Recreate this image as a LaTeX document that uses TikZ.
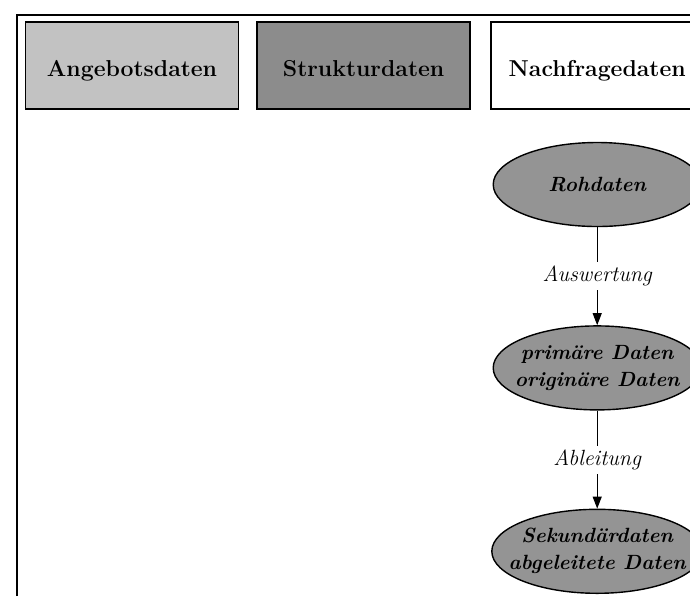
\documentclass[tikz,border=0pt]{standalone}
\usepackage{xcolor}
\usepackage{tikz}
\usetikzlibrary{arrows.meta,positioning,shapes.geometric}

\definecolor{angebotgray}{gray}{0.76}
\definecolor{strukturgray}{gray}{0.55}
\definecolor{datengray}{gray}{0.58}

\begin{document}
\begin{tikzpicture}[
    x=1pt, y=1pt,
    >={Triangle[length=6pt,width=4.5pt]},
    node distance=49pt,
    hdr/.style={draw, line width=0.8pt, minimum width=106.5pt, minimum height=43.5pt,
      inner sep=0pt, text height=10.5pt, text depth=0pt,
      font=\fontsize{11.5}{13}\selectfont\bfseries},
    datum/.style={ellipse, draw, line width=0.7pt, fill=datengray, minimum width=104pt,
      minimum height=42pt, inner xsep=-7pt, inner ysep=0pt, align=center,
      font=\fontsize{10.3}{13.5}\selectfont\bfseries\itshape},
    step label/.style={fill=white, inner sep=2pt, font=\fontsize{11}{13}\selectfont\itshape},
  ]
  \path[use as bounding box, clip] (0,0) rectangle (345,-298);
  % outer frame, open to the right and below
  \coordinate (fr) at (8.5,-7.5);
  \draw[line width=0.8pt] (8.5,-298) -- (fr) -- (345,-7.5);

  \node[hdr, fill=angebotgray] (angebot) at (66,-32.75) {Angebotsdaten};
  \node[hdr, fill=strukturgray, right=8.5pt of angebot] (struktur) {Strukturdaten};
  \node[hdr, fill=white, right=9.5pt of struktur] (nachfrage) {Nachfragedaten};

  \node[datum, below=16pt of nachfrage] (roh) {Rohdaten};
  \node[datum, below=of roh] (primaer) {primäre Daten\\originäre Daten};
  \node[datum, below=of primaer] (sekundaer) {Sekundärdaten\\abgeleitete Daten};

  \draw[->, line width=0.5pt] (roh) -- node[step label] {Auswertung} (primaer);
  \draw[->, line width=0.5pt] (primaer) -- node[step label] {Ableitung} (sekundaer);
\end{tikzpicture}
\end{document}
